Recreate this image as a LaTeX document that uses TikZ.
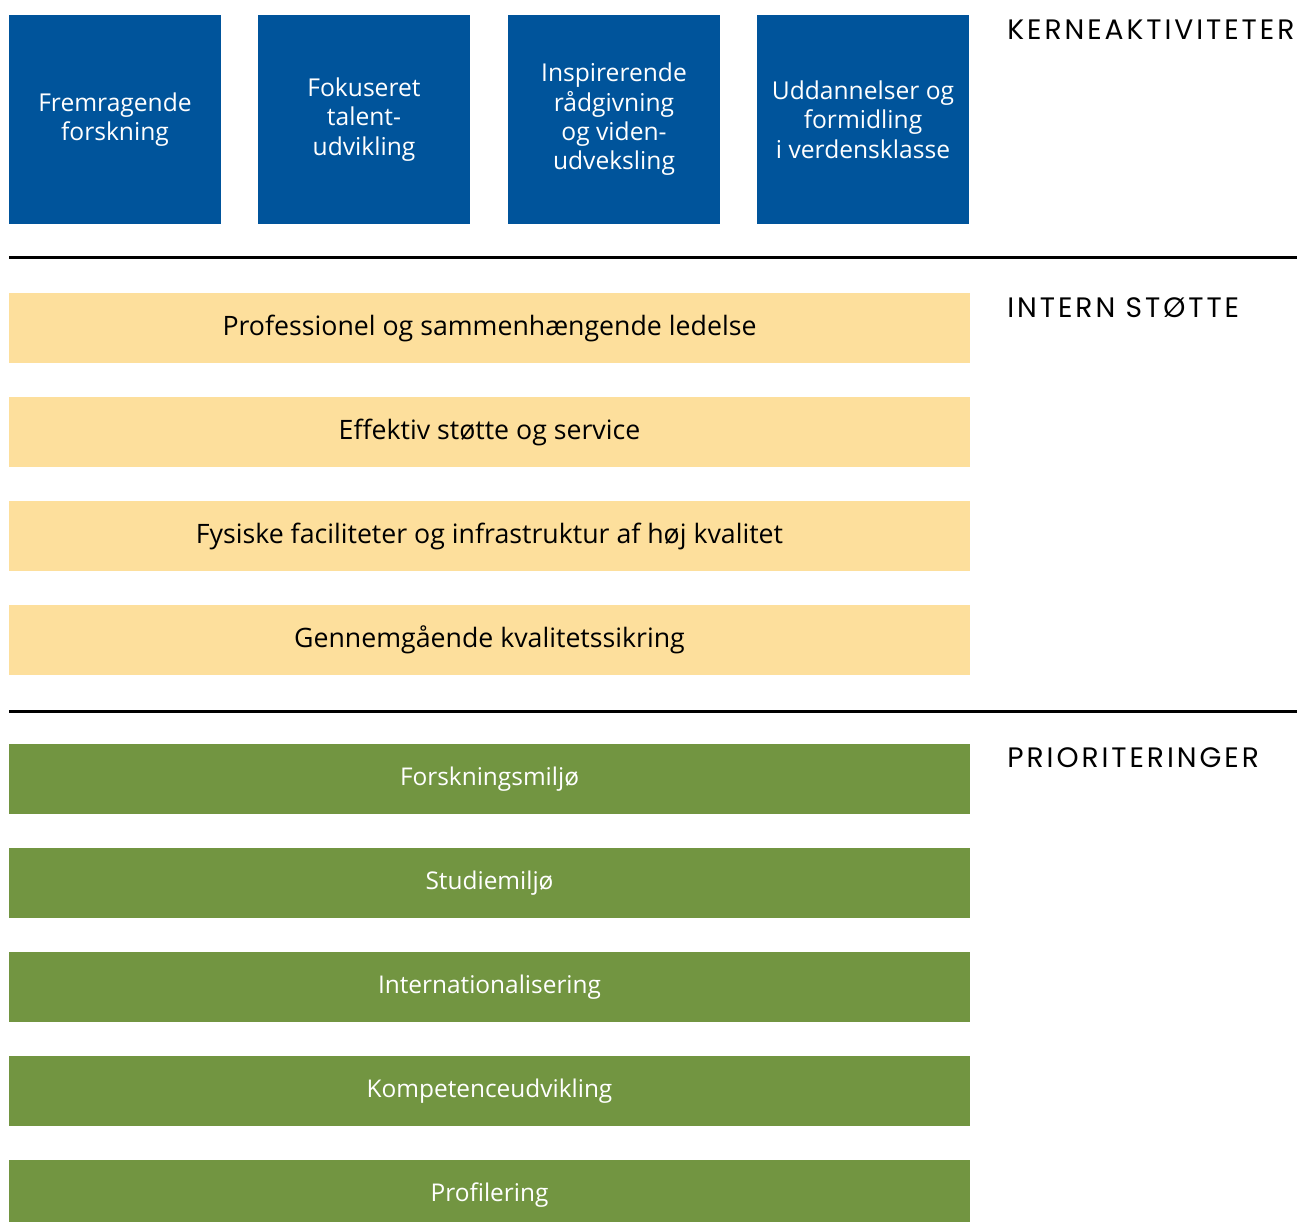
\documentclass[tikz,border=0pt]{standalone}
\usepackage{fontspec}
\setmainfont{Open Sans}
\newfontfamily\headfont[LetterSpace=10.5]{Poppins}
\usepackage{tikz}

\definecolor{kerneblue}{RGB}{0,84,155}
\definecolor{stoetteyellow}{RGB}{253,223,156}
\definecolor{prioritetgreen}{RGB}{114,149,65}

\tikzset{
  kerne/.style={fill=kerneblue, text=white, minimum width=212*0.02cm, minimum height=209*0.02cm,
    inner sep=0pt, align=center, font=\fontsize{14}{16.7}\selectfont},
  stoette/.style={fill=stoetteyellow, text=black, minimum width=961*0.02cm, minimum height=70*0.02cm,
    inner sep=0pt, font=\fontsize{15.2}{17}\selectfont},
  prioritet/.style={fill=prioritetgreen, text=white, minimum width=961*0.02cm, minimum height=70*0.02cm,
    inner sep=0pt, font=\fontsize{13.9}{16}\selectfont},
  overskrift/.style={anchor=base west, inner sep=0pt, font=\headfont\fontsize{16}{18}\selectfont},
  skillelinje/.style={line width=1.7pt}
}

\begin{document}
\begin{tikzpicture}[x=0.02cm, y=-0.02cm]
\useasboundingbox (0,0) rectangle (1297,1221);
% kerneaktiviteter
\node[kerne] (k1) at (115,119.5) {Fremragende\\forskning};
\node[kerne] (k2) at (364,119.5) {Fokuseret\\talent-\\udvikling};
\node[kerne] (k3) at (614,119.5) {Inspirerende\\rådgivning\\og viden-\\udveksling};
\node[kerne] (k4) at (863,119.5) {Uddannelser og\\formidling\\i verdensklasse};
\node[overskrift] (hk) at (1007,39) {KERNEAKTIVITETER};
\draw[skillelinje] (9,257) -- (1297,257);
% intern stoette
\foreach \y/\txt [count=\i] in {328/Professionel og sammenhængende ledelse,
    432/Effektiv støtte og service,
    536/Fysiske faciliteter og infrastruktur af høj kvalitet,
    640/Gennemgående kvalitetssikring}
  \node[stoette] (s\i) at (489.5,\y) {\txt};
\node[overskrift] (hs) at (1007,317) {INTERN STØTTE};
\draw[skillelinje] (9,711) -- (1297,711);
% prioriteringer
\foreach \y/\txt [count=\i] in {779/Forskningsmiljø,883/Studiemiljø,987/Internationalisering,
    1091/Kompetenceudvikling,1195/Profilering}
  \node[prioritet] (p\i) at (489.5,\y) {\txt};
\node[overskrift] (hp) at (1007,767) {PRIORITERINGER};
\end{tikzpicture}
\end{document}
